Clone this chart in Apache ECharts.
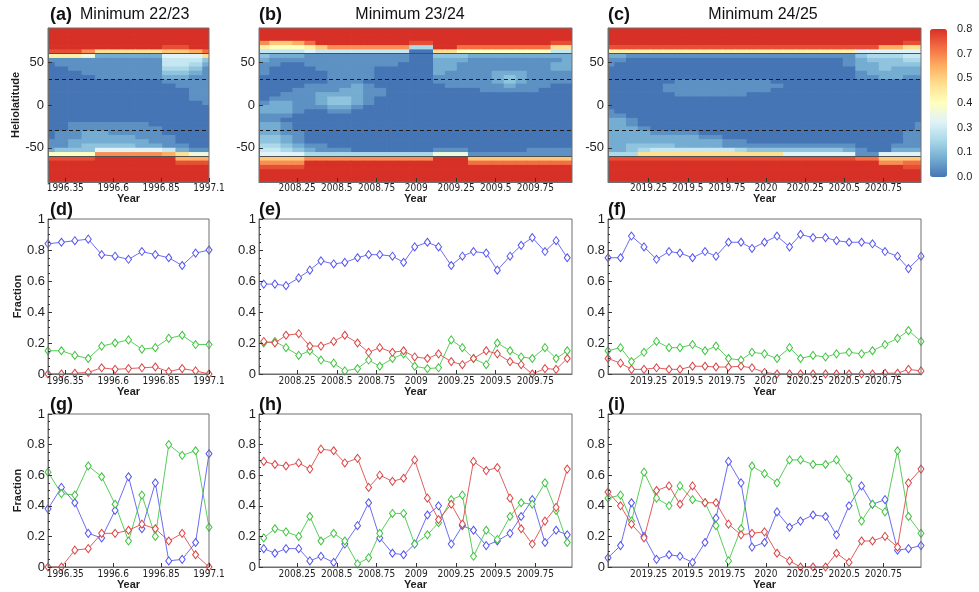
<!DOCTYPE html>
<html>
<head>
<meta charset="utf-8">
<script src="https://cdn.jsdelivr.net/npm/echarts@6/dist/echarts.min.js"></script>
<style>
  html, body { margin: 0; padding: 0; background: #fff; }
  #chart { width: 979px; height: 592px; }
</style>
</head>
<body>
<div id="chart"></div>
<script>
// ---------- data ----------
// time of each Carrington rotation (x positions of points / heatmap columns)
const yearsA = [1996.26, 1996.33, 1996.40, 1996.47, 1996.54, 1996.61, 1996.68, 1996.75, 1996.82, 1996.89, 1996.96, 1997.03, 1997.10];
const yearsB = [2008.04, 2008.11, 2008.18, 2008.26, 2008.33, 2008.40, 2008.48, 2008.55, 2008.63, 2008.70, 2008.77, 2008.85, 2008.92, 2008.99,
  2009.07, 2009.14, 2009.22, 2009.29, 2009.36, 2009.44, 2009.51, 2009.59, 2009.66, 2009.73, 2009.81, 2009.88, 2009.95];
const yearsC = [2018.99, 2019.07, 2019.14, 2019.22, 2019.30, 2019.38, 2019.45, 2019.53, 2019.61, 2019.68, 2019.76, 2019.84, 2019.91, 2019.99,
  2020.07, 2020.15, 2020.22, 2020.30, 2020.38, 2020.45, 2020.53, 2020.61, 2020.68, 2020.76, 2020.84, 2020.91, 2020.99];

const ticksA = [1996.35, 1996.6, 1996.85, 1997.1];
const ticksB = [2008.25, 2008.5, 2008.75, 2009, 2009.25, 2009.5, 2009.75];
const ticksC = [2019.25, 2019.5, 2019.75, 2020, 2020.25, 2020.5, 2020.75];
const latTicks = [-50, 0, 50];

// heliolatitude bin centres, top to bottom
const latRows = [87.5, 82.5, 77.5, 72.5, 67.5, 62.5, 57.5, 52.5, 47.5, 42.5, 37.5, 32.5, 27.5, 22.5, 17.5, 12.5, 7.5, 2.5,
  -2.5, -7.5, -12.5, -17.5, -22.5, -27.5, -32.5, -37.5, -42.5, -47.5, -52.5, -57.5, -62.5, -67.5, -72.5, -77.5, -82.5, -87.5];

// each character is a value in steps of 0.05: '0' = 0.00 ... 'G' = 0.80
const levels = '0123456789ABCDEFG';

const mapA = [
  'GGGGGGGGGGGGG',
  'GGGGGGGGGGGGG',
  'GGGGGGGGGGGGG',
  'GGGGGGGGGGGGG',
  'GGGGGGGGGFFGG',
  'FFFDAAAAABBCE',
  '999722222666A',
  '1111111115553',
  '0111111115542',
  '0011111114431',
  '0001111113321',
  '0000111112211',
  '0000000001111',
  '0000000000111',
  '0000000000011',
  '0000000000011',
  '0000000000011',
  '0000000000001',
  '0000000000000',
  '0000000000000',
  '0000000000000',
  '0000000000000',
  '0011111100000',
  '0011111110000',
  '0112211110000',
  '0112222111000',
  '1122222211000',
  '1123333221100',
  '2333666665211',
  '8888DDDDDCA77',
  'FFFFGGGGGGCCC',
  'GGGGGGGGGGFFF',
  'GGGGGGGGGGGGG',
  'GGGGGGGGGGGGG',
  'GGGGGGGGGGGGG',
  'GGGGGGGGGGGGG'
];

const mapB = [
  'GGGGGGGGGGGGGGGGGGGGGGGGGGG',
  'GGGGGGGGGGGGGGGGGGGGGGGGGGG',
  'GGGGGGGGGGGGGGGGGGGGGGGGGGG',
  'DBBCEGGGGGGGGFFGGGGGGGGGGFF',
  '98889BDDDDDDD44GGEEEEEEEEAA',
  '555565555555500AA8888888855',
  '322211111111100333222222222',
  '211111111111100222111111112',
  '110011111111000221111111122',
  '100001111100000221111111122',
  '100000111100000211112221111',
  '000000111100000111112321111',
  '000000111000000111112321111',
  '000011112100000011111211100',
  '000111122110000000011111000',
  '001112222110000000000000000',
  '011112332100000000000000000',
  '122112332100000000000000000',
  '222111221000000000000000000',
  '222100110000000000000000000',
  '111000000000000000000000000',
  '110000000000000000000000000',
  '221000000000000000000000000',
  '221000000000000000000000000',
  '221100000000000000000000000',
  '332100000000000000000000000',
  '332100000000000000000000000',
  '443211000000000000000000000',
  '554321110000000111000001111',
  '666644444444444777111111111',
  'BBBBDDDDDDDDDDDGGGBBBBBBBBB',
  'DDDDGGGGGGGGGGGGGGEEEEEEEEE',
  'FFFFGGGGGGGGGGGGGGGGGGGGGGG',
  'GGGGGGGGGGGGGGGGGGGGGGGGGGG',
  'GGGGGGGGGGGGGGGGGGGGGGGGGGG',
  'GGGGGGGGGGGGGGGGGGGGGGGGGGG'
];

const mapC = [
  'GGGGGGGGGGGGGGGGGGGGGGGGGGG',
  'GGGGGGGGGGGGGGGGGGGGGGGGGGG',
  'GGGGGGGGGGGGGGGGGGGGGGGGGGG',
  'GGGGGGGGGGGGGGGGGGGGGGGGGFF',
  'FFFFFFFFFFFFFFFFFFFFFFFCCAA',
  '999999999999999999999666666',
  '221111111111111111111344455',
  '110000000000000000001233344',
  '100000000000000000001223333',
  '000000000000000000000223222',
  '000000000000000000000122222',
  '000000000000000000000112211',
  '000000111111110000000000000',
  '000001111111111000000000000',
  '000001111111110000000000000',
  '000000111111000000000000000',
  '000000000000000000000000000',
  '000000000000000000000000000',
  '000000000000000000000000000',
  '100000000000000000000000000',
  '110000000000000000000000000',
  '221000000000000000000000000',
  '221000000000000000000000001',
  '222100000000000000000000001',
  '222211110000000000000000011',
  '222222221100000000000000011',
  '222222222211000000000000011',
  '223333222211111111111000111',
  '223455555554333333332100222',
  '444AAAAAAAAAAAA666666116666',
  'FFFFFFFFFFFFFFFFFFFFFEEBBBB',
  'GGGGGGGGGGGGGGGGGGGGGGGDDEE',
  'GGGGGGGGGGGGGGGGGGGGGGGGGFF',
  'GGGGGGGGGGGGGGGGGGGGGGGGGGG',
  'GGGGGGGGGGGGGGGGGGGGGGGGGGG',
  'GGGGGGGGGGGGGGGGGGGGGGGGGGG'
];

// fractions, middle row (d, e, f)
const blueD  = [0.84, 0.85, 0.86, 0.87, 0.77, 0.76, 0.74, 0.79, 0.77, 0.75, 0.70, 0.78, 0.80];
const greenD = [0.15, 0.15, 0.12, 0.10, 0.18, 0.20, 0.22, 0.16, 0.17, 0.23, 0.25, 0.19, 0.19];
const redD   = [0.00, 0.00, 0.005, 0.01, 0.04, 0.03, 0.035, 0.04, 0.045, 0.015, 0.035, 0.02, 0.00];

const blueE  = [0.58, 0.58, 0.57, 0.62, 0.67, 0.73, 0.71, 0.72, 0.75, 0.77, 0.77, 0.76, 0.72, 0.82, 0.85, 0.82, 0.70, 0.76, 0.79, 0.78, 0.67, 0.76, 0.83, 0.88, 0.79, 0.86, 0.75];
const greenE = [0.20, 0.21, 0.17, 0.12, 0.15, 0.09, 0.07, 0.02, 0.035, 0.09, 0.05, 0.10, 0.13, 0.05, 0.035, 0.04, 0.22, 0.17, 0.10, 0.06, 0.20, 0.15, 0.11, 0.10, 0.17, 0.10, 0.15];
const redE   = [0.21, 0.20, 0.25, 0.26, 0.18, 0.18, 0.21, 0.25, 0.20, 0.14, 0.17, 0.14, 0.15, 0.11, 0.10, 0.13, 0.08, 0.06, 0.10, 0.15, 0.13, 0.08, 0.06, 0.00, 0.035, 0.03, 0.10];

const blueF  = [0.75, 0.75, 0.89, 0.82, 0.74, 0.79, 0.78, 0.75, 0.79, 0.76, 0.85, 0.85, 0.81, 0.85, 0.89, 0.82, 0.90, 0.88, 0.88, 0.86, 0.85, 0.85, 0.84, 0.79, 0.76, 0.68, 0.76];
const greenF = [0.15, 0.17, 0.08, 0.14, 0.21, 0.17, 0.17, 0.19, 0.15, 0.18, 0.10, 0.09, 0.14, 0.13, 0.10, 0.17, 0.10, 0.12, 0.11, 0.13, 0.14, 0.13, 0.15, 0.19, 0.23, 0.28, 0.21];
const redF   = [0.10, 0.07, 0.03, 0.03, 0.04, 0.03, 0.03, 0.05, 0.05, 0.045, 0.045, 0.05, 0.04, 0.01, 0.00, 0.00, 0.00, 0.00, 0.00, 0.00, 0.00, 0.00, 0.00, 0.005, 0.005, 0.03, 0.02];

// fractions, bottom row (g, h, i)
const blueG  = [0.38, 0.52, 0.42, 0.22, 0.19, 0.37, 0.59, 0.25, 0.55, 0.04, 0.05, 0.16, 0.74];
const greenG = [0.62, 0.48, 0.47, 0.66, 0.59, 0.41, 0.17, 0.47, 0.20, 0.80, 0.73, 0.76, 0.26];
const redG   = [0.00, 0.00, 0.11, 0.12, 0.22, 0.22, 0.24, 0.28, 0.25, 0.17, 0.22, 0.08, 0.00];

const blueH  = [0.12, 0.09, 0.12, 0.12, 0.04, 0.07, 0.03, 0.15, 0.27, 0.42, 0.19, 0.09, 0.08, 0.15, 0.34, 0.40, 0.15, 0.27, 0.24, 0.14, 0.17, 0.22, 0.33, 0.44, 0.16, 0.24, 0.21];
const greenH = [0.19, 0.25, 0.23, 0.20, 0.33, 0.17, 0.22, 0.17, 0.02, 0.06, 0.22, 0.35, 0.35, 0.15, 0.21, 0.29, 0.44, 0.47, 0.07, 0.24, 0.18, 0.33, 0.42, 0.41, 0.55, 0.37, 0.16];
const redH   = [0.69, 0.67, 0.66, 0.68, 0.64, 0.77, 0.76, 0.68, 0.71, 0.52, 0.60, 0.56, 0.58, 0.70, 0.45, 0.31, 0.41, 0.28, 0.69, 0.63, 0.65, 0.45, 0.25, 0.15, 0.30, 0.39, 0.64];

const blueI  = [0.06, 0.14, 0.42, 0.20, 0.05, 0.08, 0.07, 0.03, 0.16, 0.32, 0.69, 0.55, 0.13, 0.16, 0.36, 0.26, 0.30, 0.34, 0.33, 0.21, 0.40, 0.53, 0.41, 0.44, 0.11, 0.12, 0.14];
const greenI = [0.45, 0.47, 0.30, 0.62, 0.45, 0.40, 0.53, 0.44, 0.42, 0.27, 0.04, 0.25, 0.66, 0.61, 0.55, 0.70, 0.70, 0.67, 0.67, 0.70, 0.58, 0.30, 0.41, 0.36, 0.76, 0.33, 0.22];
const redI   = [0.49, 0.40, 0.28, 0.19, 0.50, 0.53, 0.41, 0.53, 0.42, 0.42, 0.28, 0.21, 0.22, 0.23, 0.09, 0.04, 0.00, 0.00, 0.00, 0.09, 0.03, 0.17, 0.17, 0.20, 0.13, 0.55, 0.64];

// ---------- styling ----------
const SANS = "'Liberation Sans', Arial, sans-serif";
const NARROW = "'Liberation Sans Narrow', 'DejaVu Sans Condensed', 'Liberation Sans', sans-serif";
const FRAME = '#6e6e6e';
const TEXT = '#1e1e1e';
const heatColors = ['#4575b4', '#74add1', '#abd9e9', '#e0f3f8', '#ffffbf', '#fee090', '#fdae61', '#f46d43', '#d73027'];
const lineColors = { blue: '#5252f2', green: '#3cc43c', red: '#dc4242' };

const colDefs = [
  { left: 48, width: 161, years: yearsA, range: [1996.26, 1997.10], ticks: ticksA, map: mapA,
    mid: [blueD, greenD, redD], bot: [blueG, greenG, redG], label: ['(a)', '(d)', '(g)'], head: 'Minimum 22/23', headX: 80, headAlign: 'left' },
  { left: 259, width: 313, years: yearsB, range: [2008.01, 2009.98], ticks: ticksB, map: mapB,
    mid: [blueE, greenE, redE], bot: [blueH, greenH, redH], label: ['(b)', '(e)', '(h)'], head: 'Minimum 23/24', headX: 410, headAlign: 'center' },
  { left: 608, width: 313, years: yearsC, range: [2018.99, 2020.99], ticks: ticksC, map: mapC,
    mid: [blueF, greenF, redF], bot: [blueI, greenI, redI], label: ['(c)', '(f)', '(i)'], head: 'Minimum 24/25', headX: 763, headAlign: 'center' }
];
const rowDefs = [
  { top: 28, height: 154, labelTop: 6 },
  { top: 219, height: 155, labelTop: 201 },
  { top: 414, height: 153, labelTop: 396 }
];

function heatData(map, years) {
  const out = [];
  map.forEach((row, i) => {
    for (let j = 0; j < row.length; j++) {
      out.push([years[j], latRows[i], levels.indexOf(row[j]) * 0.05, j]);
    }
  });
  return out;
}

// column edges halfway between neighbouring rotations
function cellEdges(years) {
  const e = [years[0] - (years[1] - years[0]) / 2];
  for (let j = 1; j < years.length; j++) e.push((years[j - 1] + years[j]) / 2);
  const n = years.length;
  e.push(years[n - 1] + (years[n - 1] - years[n - 2]) / 2);
  return e;
}

function cellRenderer(edges) {
  return function (params, api) {
    const lat = api.value(1), j = api.value(3);
    const p0 = api.coord([edges[j], lat + 2.5]);
    const p1 = api.coord([edges[j + 1], lat - 2.5]);
    const cs = params.coordSys;
    const x0 = Math.max(p0[0], cs.x);
    const x1 = Math.min(p1[0] + 0.7, cs.x + cs.width);
    const y0 = Math.max(p0[1], cs.y);
    const y1 = Math.min(p1[1] + 0.7, cs.y + cs.height);
    if (x1 <= x0 || y1 <= y0) return null;
    return {
      type: 'rect',
      shape: { x: x0, y: y0, width: x1 - x0, height: y1 - y0 },
      style: { fill: api.visual('color') }
    };
  };
}

const fracLabel = v => (v === 0 || v === 1) ? String(v) : v.toFixed(1);

const grids = [], xAxes = [], yAxes = [], series = [], titles = [];

rowDefs.forEach((r, ri) => {
  colDefs.forEach((c, ci) => {
    const gi = ri * 3 + ci;
    grids.push({ left: c.left, top: r.top, width: c.width, height: r.height, show: true,
      borderColor: FRAME, borderWidth: 1, backgroundColor: 'transparent', z: 6 });

    xAxes.push({
      type: 'value', gridIndex: gi, min: c.range[0], max: c.range[1], z: 6,
      name: 'Year', nameLocation: 'middle', nameGap: ri === 0 ? 10 : 11,
      nameTextStyle: { fontSize: 11, fontWeight: 'bold', color: TEXT, fontFamily: SANS },
      axisLine: { show: true, onZero: false, lineStyle: { color: FRAME } },
      axisTick: { show: true, inside: true, length: 4, customValues: c.ticks, lineStyle: { color: '#333' } },
      axisLabel: { customValues: c.ticks, fontSize: 10, fontFamily: NARROW, color: TEXT, margin: ri === 0 ? 1 : 2,
        formatter: v => String(v) },
      splitLine: { show: false }
    });

    if (ri === 0) {
      yAxes.push({
        type: 'value', gridIndex: gi, min: -90, max: 90, z: 6,
        name: ci === 0 ? 'Heliolatitude' : '', nameLocation: 'middle', nameGap: 22,
        nameTextStyle: { fontSize: 11, fontWeight: 'bold', color: TEXT, fontFamily: SANS },
        axisLine: { show: true, onZero: false, lineStyle: { color: FRAME } },
        axisTick: { show: true, inside: true, length: 4, customValues: latTicks, lineStyle: { color: '#333' } },
        axisLabel: { customValues: latTicks, fontSize: 13, color: TEXT, margin: 4 },
        splitLine: { show: false }
      });
      series.push({
        type: 'custom', xAxisIndex: gi, yAxisIndex: gi, silent: true,
        renderItem: cellRenderer(cellEdges(c.years)),
        encode: { x: 0, y: 1 },
        data: heatData(c.map, c.years),
        markLine: {
          silent: true, symbol: 'none', label: { show: false }, animation: false,
          data: [
            { yAxis: 60, lineStyle: { color: '#505050', width: 1.2, type: 'solid' } },
            { yAxis: -60, lineStyle: { color: '#505050', width: 1.2, type: 'solid' } },
            { yAxis: 30, lineStyle: { color: '#1a1a1a', width: 1, type: [4, 3] } },
            { yAxis: -30, lineStyle: { color: '#1a1a1a', width: 1, type: [4, 3] } }
          ]
        }
      });
      titles.push({ text: c.head, left: c.headX, top: 7, padding: 0, textAlign: c.headAlign,
        textStyle: { fontSize: 16, fontWeight: 'normal', color: '#111', fontFamily: SANS } });
    } else {
      yAxes.push({
        type: 'value', gridIndex: gi, min: 0, max: 1, interval: 0.2, z: 6,
        name: ci === 0 ? 'Fraction' : '', nameLocation: 'middle', nameGap: 23,
        nameTextStyle: { fontSize: 11, fontWeight: 'bold', color: TEXT, fontFamily: SANS },
        axisLine: { show: true, onZero: false, lineStyle: { color: FRAME } },
        axisTick: { show: true, inside: true, length: 4, lineStyle: { color: '#333' } },
        minorTick: { show: true, splitNumber: 4, length: 2, lineStyle: { color: '#333' } },
        axisLabel: { fontSize: 13, color: TEXT, margin: 3, formatter: fracLabel },
        splitLine: { show: false }
      });
      const set = ri === 1 ? c.mid : c.bot;
      [['blue', set[0]], ['green', set[1]], ['red', set[2]]].forEach(([name, vals]) => {
        const col = lineColors[name];
        series.push({
          type: 'line', name: name, xAxisIndex: gi, yAxisIndex: gi, silent: true, clip: false,
          data: c.years.map((t, k) => [t, vals[k]]),
          symbol: 'diamond', symbolSize: [6, 8], showAllSymbol: true,
          lineStyle: { color: col, width: 1, opacity: 0.85 },
          itemStyle: { color: '#ffffff', borderColor: col, borderWidth: 1 },
          z: 3
        });
      });
    }
    titles.push({ text: c.label[ri], left: c.left + (ci === 0 ? 2 : 0), top: r.labelTop, padding: 0,
      textStyle: { fontSize: 18, fontWeight: 'bold', color: '#111', fontFamily: SANS } });
  });
});

// colour bar axis (labels only) next to the visualMap bar
grids.push({ left: 930, top: 29, width: 17, height: 148, show: false });
xAxes.push({ type: 'value', gridIndex: 9, show: false, min: 0, max: 1 });
yAxes.push({
  type: 'value', gridIndex: 9, min: 0, max: 0.8, interval: 0.8 / 6, position: 'right',
  axisLine: { show: false }, axisTick: { show: false }, splitLine: { show: false },
  axisLabel: { fontSize: 11, color: TEXT, margin: 10, formatter: v => v.toFixed(1) }
});

const option = {
  animation: false,
  backgroundColor: '#ffffff',
  textStyle: { fontFamily: SANS },
  title: titles,
  grid: grids,
  xAxis: xAxes,
  yAxis: yAxes,
  visualMap: {
    type: 'continuous', min: 0, max: 0.8, dimension: 2, seriesIndex: [0, 1, 2],
    inRange: { color: heatColors }, calculable: false, hoverLink: false,
    left: 930, top: 29, itemWidth: 17, itemHeight: 148, padding: 0, orient: 'vertical'
  },
  series: series
};

const chart = echarts.init(document.getElementById('chart'), null, { renderer: 'canvas' });
chart.setOption(option);
</script>
</body>
</html>
